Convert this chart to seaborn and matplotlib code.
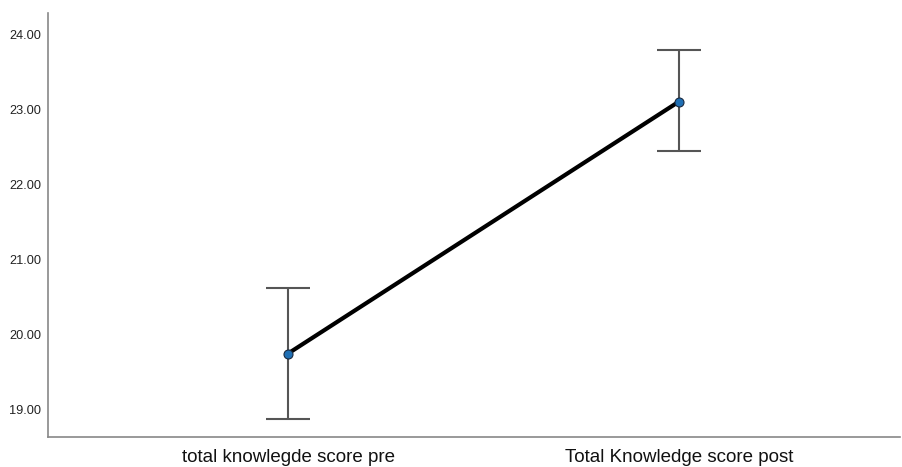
import matplotlib
matplotlib.use("Agg")
import matplotlib.pyplot as plt
import seaborn as sns
import pandas as pd

# Values
categories = ["total knowlegde score pre", "Total Knowledge score post"]
means = [19.74, 23.10]
ci_lower = [18.87, 22.44]
ci_upper = [20.61, 23.79]

df = pd.DataFrame({"measure": categories, "score": means})

sns.set_style("white")
plt.rcParams["font.family"] = ["Liberation Sans", "DejaVu Sans"]

fig = plt.figure(figsize=(9.02, 4.67), dpi=100)
ax = fig.add_axes([48 / 902, 30 / 467, 852 / 902, 424 / 467])

# error bars first so the line and markers sit on top
yerr = [[m - lo for m, lo in zip(means, ci_lower)],
        [hi - m for m, hi in zip(means, ci_upper)]]
ax.errorbar(range(len(categories)), means, yerr=yerr, fmt="none",
            ecolor="#555555", elinewidth=1.5, capsize=16, capthick=1.5, zorder=2)

sns.pointplot(data=df, x="measure", y="score", errorbar=None, color="black",
              linewidth=3, markers="o", markersize=0, ax=ax, zorder=3)
ax.scatter(range(len(categories)), means, s=42, color="#1f6fb4",
           edgecolor="#1a2a40", linewidth=0.8, zorder=4)

ax.set_xlim(-0.614, 1.565)
ax.set_ylim(18.627, 24.28)
ax.set_yticks([19, 20, 21, 22, 23, 24])
ax.set_yticklabels([f"{v:.2f}" for v in [19, 20, 21, 22, 23, 24]], fontsize=9.2, color="#222222")
ax.tick_params(axis="x", labelsize=13.5, length=0, pad=9, colors="#111111")
ax.tick_params(axis="y", length=0, pad=5)
ax.set_xlabel("")
ax.set_ylabel("")

for side in ["top", "right"]:
    ax.spines[side].set_visible(False)
for side in ["left", "bottom"]:
    ax.spines[side].set_color("#888888")
    ax.spines[side].set_linewidth(1.2)

fig.savefig("out.png", dpi=100)
